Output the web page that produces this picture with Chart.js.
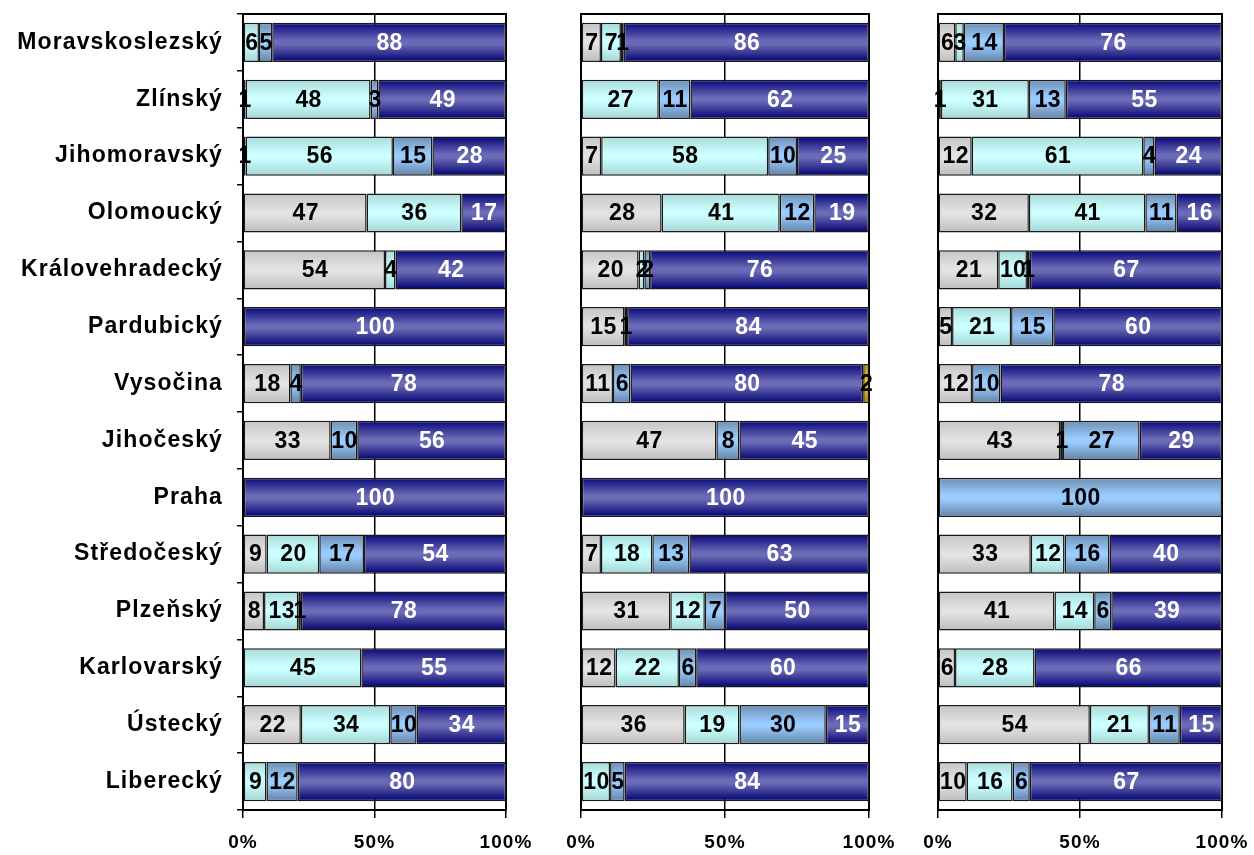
<!DOCTYPE html>
<html>
<head>
<meta charset="utf-8">
<script src="https://cdn.jsdelivr.net/npm/chart.js@4.4.1/dist/chart.umd.min.js"></script>
<style>
  body { margin: 0; background: #fff; width: 1254px; height: 855px; position: relative; overflow: hidden; }
  canvas { position: absolute; top: 0; }
</style>
</head>
<body>
<canvas id="c1" width="535" height="855" style="left:0px"></canvas>
<canvas id="c2" width="360" height="855" style="left:545px"></canvas>
<canvas id="c3" width="349" height="855" style="left:905px"></canvas>
<script>
// kraje, shora dolu
const regions = ['Moravskoslezský', 'Zlínský', 'Jihomoravský', 'Olomoucký', 'Královehradecký', 'Pardubický',
  'Vysočina', 'Jihočeský', 'Praha', 'Středočeský', 'Plzeňský', 'Karlovarský', 'Ústecký', 'Liberecký'];
const xTicks = [0, 50, 100];

// panel 1
const grey1 = [0, 1, 1, 47, 54, 0, 18, 33, 0, 9, 8, 0, 22, 0];
const cyan1 = [6, 48, 56, 36, 4, 0, 0, 0, 0, 20, 13, 45, 34, 9];
const blue1 = [5, 3, 15, 0, 0, 0, 4, 10, 0, 17, 1, 0, 10, 12];
const navy1 = [88, 49, 28, 17, 42, 100, 78, 56, 100, 54, 78, 55, 34, 80];
const gold1 = [0, 0, 0, 0, 0, 0, 0, 0, 0, 0, 0, 0, 0, 0];

// panel 2
const grey2 = [7, 0, 7, 28, 20, 15, 11, 47, 0, 7, 31, 12, 36, 0];
const cyan2 = [7, 27, 58, 41, 2, 1, 0, 0, 0, 18, 12, 22, 19, 10];
const blue2 = [1, 11, 10, 12, 2, 0, 6, 8, 0, 13, 7, 6, 30, 5];
const navy2 = [86, 62, 25, 19, 76, 84, 80, 45, 100, 63, 50, 60, 15, 84];
const gold2 = [0, 0, 0, 0, 0, 0, 2, 0, 0, 0, 0, 0, 0, 0];

// panel 3
const grey3 = [6, 1, 12, 32, 21, 5, 12, 43, 0, 33, 41, 6, 54, 10];
const cyan3 = [3, 31, 61, 41, 10, 21, 0, 1, 0, 12, 14, 28, 21, 16];
const blue3 = [14, 13, 4, 11, 1, 15, 10, 27, 100, 16, 6, 0, 11, 6];
const navy3 = [76, 55, 24, 16, 67, 60, 78, 29, 0, 40, 39, 66, 15, 67];
const gold3 = [0, 0, 0, 0, 0, 0, 0, 0, 0, 0, 0, 0, 0, 0];

// barvy (prechod shora dolu)
const fills = [
  ['#c4c4c4', '#e2e2e2', '#bdbdbd'],
  ['#a9dbdb', '#ccffff', '#a4d6d6'],
  ['#6d8fb3', '#9accff', '#6482a6'],
  ['#06067a', '#6a6ab6', '#000070'],
  ['#b88a00', '#ffcc00', '#a87e00']
];
const textColors = ['#000', '#000', '#000', '#fff', '#000'];
const FONT = '"Liberation Sans", Arial, sans-serif';
const BAR_PCT = 0.69;

function barFill(stops) {
  return function(c) {
    const ys = c.chart.scales.y;
    if (!ys || c.dataIndex == null || !ys.height) return stops[1];
    const yc = ys.getPixelForValue(c.dataIndex);
    const h = ys.height / regions.length * BAR_PCT;
    const g = c.chart.ctx.createLinearGradient(0, yc - h / 2, 0, yc + h / 2);
    g.addColorStop(0, stops[0]);
    g.addColorStop(0.45, stops[1]);
    g.addColorStop(0.55, stops[1]);
    g.addColorStop(1, stops[2]);
    return g;
  };
}

// roztec pismen jako v originale
const spacing = {
  id: 'spacing',
  beforeUpdate(chart) { chart.ctx.letterSpacing = '1.1px'; },
  beforeDraw(chart) { chart.ctx.letterSpacing = '1.1px'; }
};

// ramecek plochy grafu
const frame = {
  id: 'frame',
  beforeDatasetsDraw(chart) {
    const a = chart.chartArea, ctx = chart.ctx;
    ctx.save();
    ctx.strokeStyle = '#000';
    ctx.lineWidth = 2;
    ctx.strokeRect(a.left, a.top, a.right - a.left, a.bottom - a.top);
    ctx.restore();
  }
};

// popisky hodnot
const values = {
  id: 'values',
  afterDatasetsDraw(chart) {
    const ctx = chart.ctx;
    ctx.save();
    ctx.letterSpacing = '0.4px';
    ctx.font = 'bold 23px ' + FONT;
    ctx.textAlign = 'center';
    ctx.textBaseline = 'middle';
    chart.data.datasets.forEach(function(ds, i) {
      const meta = chart.getDatasetMeta(i);
      meta.data.forEach(function(bar, j) {
        const v = ds.shown[j];
        if (!v) return;
        const p = bar.getCenterPoint();
        ctx.fillStyle = textColors[i];
        ctx.fillText(String(v), p.x + 0.5, p.y + 1);
      });
    });
    ctx.restore();
  }
};

function makeChart(id, series, showY, pad) {
  const sums = regions.map(function(r, j) {
    return series.reduce(function(s, arr) { return s + arr[j]; }, 0);
  });
  const datasets = series.map(function(arr, i) {
    return {
      data: arr.map(function(v, j) { return v ? v / sums[j] * 100 : null; }),
      shown: arr,
      backgroundColor: barFill(fills[i]),
      borderColor: '#1a1a1a',
      borderWidth: 1.5,
      borderSkipped: false,
      categoryPercentage: 1,
      barPercentage: BAR_PCT
    };
  });

  return new Chart(document.getElementById(id), {
    type: 'bar',
    data: { labels: regions, datasets: datasets },
    options: {
      indexAxis: 'y',
      responsive: false,
      animation: false,
      layout: { padding: { left: pad[0], right: pad[1], top: 14, bottom: 0 } },
      plugins: { legend: { display: false }, tooltip: { enabled: false } },
      scales: {
        x: {
          stacked: true,
          min: 0,
          max: 100,
          afterBuildTicks: function(s) { s.ticks = xTicks.map(function(v) { return { value: v }; }); },
          afterFit: function(s) { s.height = 45; s.paddingLeft = 0; s.paddingRight = 0; },
          ticks: {
            padding: 13,
            color: '#000',
            maxRotation: 0,
            font: { family: FONT, size: 19, weight: 'bold' },
            callback: function(v) { return v + '%'; }
          },
          grid: { color: '#000', lineWidth: 1.5, tickLength: 8 },
          border: { display: false }
        },
        y: {
          stacked: true,
          display: showY,
          afterFit: function(s) { s.width = showY ? 243 : 0; s.paddingTop = 0; s.paddingBottom = 0; },
          ticks: {
            padding: 14,
            color: '#000',
            font: { family: FONT, size: 23, weight: 'bold' }
          },
          grid: { drawOnChartArea: false, color: '#000', lineWidth: 1.5, tickLength: 6 },
          border: { display: false }
        }
      }
    },
    plugins: [spacing, frame, values]
  });
}

makeChart('c1', [grey1, cyan1, blue1, navy1, gold1], true, [0, 29]);
makeChart('c2', [grey2, cyan2, blue2, navy2, gold2], false, [36, 36]);
makeChart('c3', [grey3, cyan3, blue3, navy3, gold3], false, [33, 32]);
</script>
</body>
</html>
